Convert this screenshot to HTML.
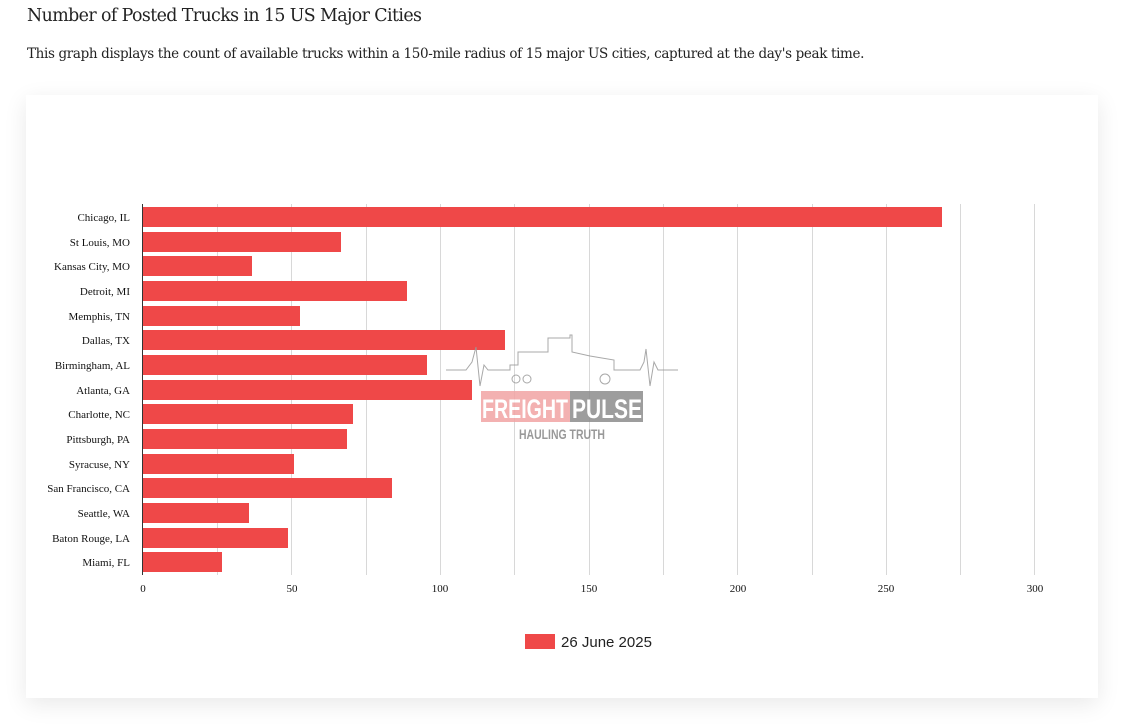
<!DOCTYPE html>
<html><head><meta charset="utf-8"><style>
body{margin:0;width:1127px;height:725px;background:#fff;overflow:hidden;position:relative;font-family:"Liberation Serif",serif;}
h1{position:absolute;left:27px;top:6px;margin:0;font-weight:normal;font-size:17.4px;color:#222;font-family:"DejaVu Serif","Liberation Serif",serif;letter-spacing:-0.6px;}
p{position:absolute;left:27px;top:46px;margin:0;font-size:13.5px;color:#222;font-family:"DejaVu Serif","Liberation Serif",serif;letter-spacing:-0.35px;}
.card{position:absolute;left:26px;top:95px;width:1072px;height:603px;background:#fff;box-shadow:0 6px 22px rgba(0,0,0,0.09);}
</style></head><body>
<h1>Number of Posted Trucks in 15 US Major Cities</h1>
<p>This graph displays the count of available trucks within a 150-mile radius of 15 major US cities, captured at the day's peak time.</p>
<div class="card"></div>
<svg style="position:absolute;left:0;top:0" width="1127" height="725">
<g stroke="#d8d8d8" stroke-width="1">
<line x1="217.5" y1="204" x2="217.5" y2="575"/><line x1="291.5" y1="204" x2="291.5" y2="575"/><line x1="366.5" y1="204" x2="366.5" y2="575"/><line x1="440.5" y1="204" x2="440.5" y2="575"/><line x1="514.5" y1="204" x2="514.5" y2="575"/><line x1="589.5" y1="204" x2="589.5" y2="575"/><line x1="663.5" y1="204" x2="663.5" y2="575"/><line x1="737.5" y1="204" x2="737.5" y2="575"/><line x1="812.5" y1="204" x2="812.5" y2="575"/><line x1="886.5" y1="204" x2="886.5" y2="575"/><line x1="960.5" y1="204" x2="960.5" y2="575"/><line x1="1034.5" y1="204" x2="1034.5" y2="575"/>
</g>
<g fill="#ef4848">
<rect x="143" y="207" width="799" height="20"/>
<rect x="143" y="232" width="198" height="20"/>
<rect x="143" y="256" width="109" height="20"/>
<rect x="143" y="281" width="264" height="20"/>
<rect x="143" y="306" width="157" height="20"/>
<rect x="143" y="330" width="362" height="20"/>
<rect x="143" y="355" width="284" height="20"/>
<rect x="143" y="380" width="329" height="20"/>
<rect x="143" y="404" width="210" height="20"/>
<rect x="143" y="429" width="204" height="20"/>
<rect x="143" y="454" width="151" height="20"/>
<rect x="143" y="478" width="249" height="20"/>
<rect x="143" y="503" width="106" height="20"/>
<rect x="143" y="528" width="145" height="20"/>
<rect x="143" y="552" width="79" height="20"/>
</g>
<line x1="142.5" y1="204" x2="142.5" y2="575" stroke="#333"/>
<g font-size="11" text-anchor="end" fill="#111" font-family="Liberation Serif,serif">
<text x="130" y="221">Chicago, IL</text><text x="130" y="246">St Louis, MO</text><text x="130" y="270">Kansas City, MO</text><text x="130" y="295">Detroit, MI</text><text x="130" y="320">Memphis, TN</text><text x="130" y="344">Dallas, TX</text><text x="130" y="369">Birmingham, AL</text><text x="130" y="394">Atlanta, GA</text><text x="130" y="418">Charlotte, NC</text><text x="130" y="443">Pittsburgh, PA</text><text x="130" y="468">Syracuse, NY</text><text x="130" y="492">San Francisco, CA</text><text x="130" y="517">Seattle, WA</text><text x="130" y="542">Baton Rouge, LA</text><text x="130" y="566">Miami, FL</text>
</g>
<g font-size="11" text-anchor="middle" fill="#111" font-family="Liberation Serif,serif">
<text x="143" y="592">0</text><text x="292" y="592">50</text><text x="440" y="592">100</text><text x="589" y="592">150</text><text x="738" y="592">200</text><text x="886" y="592">250</text><text x="1035" y="592">300</text>
</g>
<g opacity="0.85">
<polyline fill="none" stroke="#999" stroke-width="1" points="446,370 466,370 472,362 476,347 480,386 484,365 488,370 510,370 510,365 518,365 518,352 548,352 548,338 570,338 570,335 572,335 572,352 590,356 614,360 614,370 640,370 644,362 646,349 650,386 654,362 658,370 678,370"/>
<circle cx="516" cy="379" r="4" fill="none" stroke="#999"/><circle cx="527" cy="379" r="4" fill="none" stroke="#999"/><circle cx="605" cy="379" r="5" fill="none" stroke="#999"/>
<rect x="481" y="391" width="89" height="31" fill="#f2a4a4"/>
<rect x="570" y="391" width="73" height="31" fill="#8c8c8c"/>
<text x="525" y="418" font-size="27" font-family="Liberation Sans,sans-serif" font-weight="bold" fill="#fff" text-anchor="middle" textLength="86" lengthAdjust="spacingAndGlyphs">FREIGHT</text>
<text x="607" y="418" font-size="27" font-family="Liberation Sans,sans-serif" font-weight="bold" fill="#fff" text-anchor="middle" textLength="70" lengthAdjust="spacingAndGlyphs">PULSE</text>
<text x="562" y="439" font-size="14" font-family="Liberation Sans,sans-serif" font-weight="bold" fill="#888" text-anchor="middle" textLength="86" lengthAdjust="spacingAndGlyphs">HAULING TRUTH</text>
</g>
<rect x="525" y="634" width="30" height="15" fill="#ef4848"/>
<text x="561" y="647" font-size="15" font-family="Liberation Sans,sans-serif" fill="#222">26 June 2025</text>
</svg>
</body></html>
